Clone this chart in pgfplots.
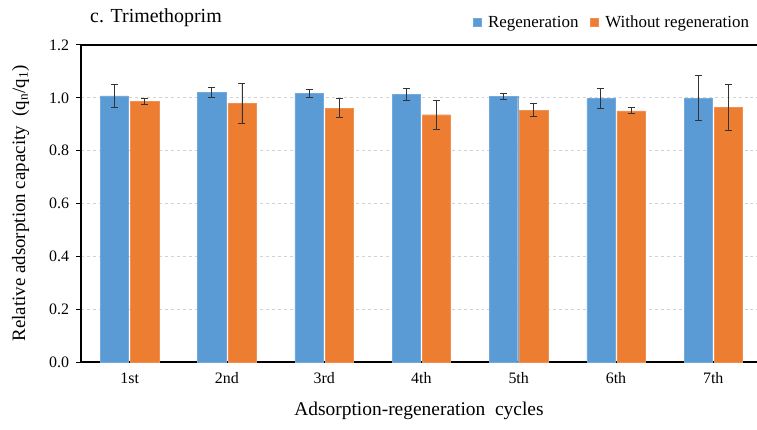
\documentclass[border=0pt]{standalone}
\usepackage{pgfplots}
\pgfplotsset{compat=1.18}
\usepackage{fontspec}
\setmainfont{Liberation Serif}
\definecolor{regblue}{HTML}{5B9BD5}
\definecolor{noregorange}{HTML}{ED7D31}
\begin{document}
\begin{tikzpicture}
\begin{axis}[
  scale only axis,
  width=676bp, height=317bp,
  clip=false,
  ybar, bar width=0.29,
  xmin=-0.5, xmax=6.45,
  ymin=0, ymax=1.2,
  ytick={0,0.2,...,1.2},
  xtick={0,...,6},
  xticklabels={1st,2nd,3rd,4th,5th,6th,7th},
  major x tick style={draw=none},
  tick align=outside,
  major tick length=5bp,
  y tick style={black, line width=1bp},
  axis x line*=bottom, axis y line*=left,
  axis line style={black, line width=1.6bp},
  ymajorgrids,
  grid style={dashed, gray!35, line width=0.7bp},
  y tick label style={/pgf/number format/fixed, /pgf/number format/fixed zerofill, /pgf/number format/precision=1, xshift=-3.5bp},
  /pgf/number format/assume math mode=true,
  ticklabel style={font=\fontsize{16}{18}\selectfont},
  xticklabel style={yshift=-2bp},
  xlabel={Adsorption-regeneration\ \ cycles},
  ylabel={Relative adsorption capacity\ \ (q\textsubscript{n}/q\textsubscript{1})},
  xlabel style={font=\fontsize{19.5}{21}\selectfont, at={(rel axis cs:0.5,-0.154)}, anchor=center},
  ylabel style={font=\fontsize{19}{21}\selectfont, at={(rel axis cs:-0.0895,0.5)}, anchor=center},
  legend columns=2,
  legend style={draw=none, fill=none, at={(rel axis cs:0.580,1)}, anchor=south west, yshift=14bp, inner sep=0pt,
    font=\fontsize{17}{19}\selectfont,
    /tikz/every odd column/.append style={column sep=5bp},
    /tikz/every even column/.append style={column sep=10bp}},
  legend image code/.code={\fill[#1] (0bp,-4.5bp) rectangle (7.5bp,4bp);},
  error bars/y dir=both, error bars/y explicit,
  error bars/error mark options={rotate=90, mark size=3.5bp, line width=0.9bp, black!80},
  error bars/error bar style={line width=0.9bp, black!80},
]
\addplot[fill=regblue, draw=regblue!85!white] coordinates {
  (0,1.007) +- (0,0.043)
  (1,1.021) +- (0,0.020)
  (2,1.018) +- (0,0.015)
  (3,1.013) +- (0,0.024)
  (4,1.005) +- (0,0.012)
  (5,0.997) +- (0,0.038)
  (6,0.999) +- (0,0.084)
};
\addplot[fill=noregorange, draw=noregorange!85!white] coordinates {
  (0,0.987) +- (0,0.012)
  (1,0.979) +- (0,0.076)
  (2,0.961) +- (0,0.036)
  (3,0.936) +- (0,0.054)
  (4,0.953) +- (0,0.025)
  (5,0.951) +- (0,0.012)
  (6,0.963) +- (0,0.088)
};
\legend{Regeneration, Without regeneration}
\draw[black, line width=1.6bp] (rel axis cs:0,1) -- (rel axis cs:1,1);
\node[anchor=base west, font=\fontsize{20}{22}\selectfont, inner sep=0pt] at ([xshift=9bp, yshift=22.3bp]rel axis cs:0,1) {c. Trimethoprim};
\end{axis}
\pgfresetboundingbox
\path[use as bounding box] (-81bp,-68bp) rectangle (676bp,362bp);
\end{tikzpicture}
\end{document}
